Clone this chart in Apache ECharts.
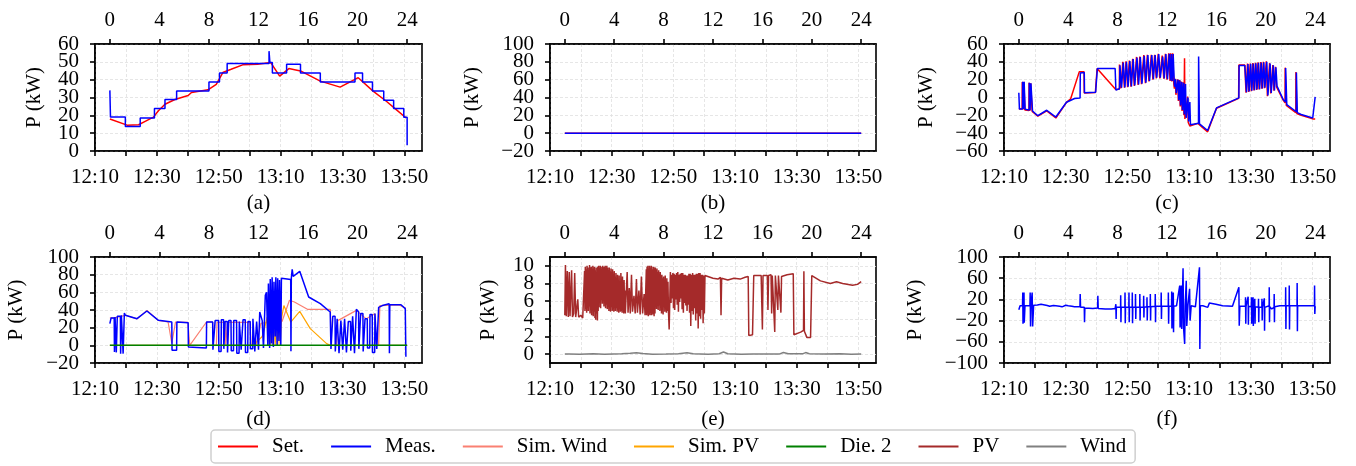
<!DOCTYPE html>
<html>
<head>
<meta charset="UTF-8">
<title>P (kW)</title>
<script src="https://cdn.jsdelivr.net/npm/echarts@6/dist/echarts.min.js"></script>
<style>
  html, body { margin: 0; padding: 0; background: #fff; }
  #main { width: 1356px; height: 466px; }
</style>
</head>
<body>
<div id="main"></div>
<script>
// tick labels
var hourTicks = [0, 4, 8, 12, 16, 20, 24];
var clockMinutes = [10, 20, 30, 40, 50, 60, 70, 80, 90, 100, 110];   // minutes after 12:00
var clockLabelMinutes = [10, 30, 50, 70, 90, 110];
var clockTicks = ['12:10', '12:30', '12:50', '13:10', '13:30', '13:50'];
var legendNames = ['Set.', 'Meas.', 'Sim. Wind', 'Sim. PV', 'Die. 2', 'PV', 'Wind'];

// (a)
var setA = [[0,17.9],[1.39,14.5],[2.32,14.7],[2.85,16.6],[3.52,19],[3.92,22.6],[4.45,26.2],[5.25,28.9],[6.32,31.1],[6.59,32.8],[7.92,34.3],[8.59,37.4],[9.12,44],[9.79,45.8],[10.72,48.3],[11.92,48.7],[12.99,49.6],[13.71,42],[14.45,46.2],[15.39,44.9],[16.99,39.2],[18.59,35.8],[20.05,41.1],[21.25,33.6],[22.32,27.9],[23.12,23.2],[23.92,18.5]];
var measA = [[0,34],[0.05,19],[1.25,13.8],[2.45,18.5],[3.6,23.8],[4.45,28.9],[5.39,33.6],[8.0,38.7],[8.85,43.8],[9.47,49],[12.85,56],[12.92,49.6],[13.12,43.8],[14.27,48.7],[15.39,43.8],[16.99,38.7],[19.79,43.8],[20.4,38.7],[21.2,33.6],[22.11,28.5],[22.91,23.8],[23.73,18.9],[24,3.2]];

// (b)
var setB = [[0,0],[24,0]];
var measB = [[0,0],[24,0]];

// (c)
var setC = [[0,-12.5],[0.27,-13],[0.28,17.5],[0.34,17.5],[0.35,-13.5],[0.4,-13.5],[0.41,17.5],[0.48,17.5],[0.49,-14],[0.82,-14.5],[0.83,16.5],[0.88,16.5],[0.89,-15],[0.95,-15],[0.96,16],[1.07,15.5],[1.08,-15.5],
  [1.54,-21],[2.26,-15],[3.0,-23],[3.86,-5.5],[4.2,-1.5],[4.9,29],[5.28,29],[5.3,5],[6.2,5.5],[6.34,32.5],[7.85,9],[8.15,9.5],
  [8.15,37],[8.27,37],[8.28,10.5],[8.42,40],[8.54,40],[8.55,11],[8.68,40.5],[8.8,40.5],[8.81,11.5],[8.95,41.5],[9.07,41.5],[9.08,12],[9.22,43.5],[9.34,43.5],[9.35,13],
  [9.53,45.5],[9.65,45.5],[9.66,14],[9.8,46],[9.92,46],[9.93,15],[10.12,47.5],[10.24,47.5],[10.25,16],[10.41,48],[10.53,48],[10.54,18],[10.73,48],[10.85,48],[10.86,20],
  [11.0,48],[11.12,48],[11.13,21.5],[11.29,49],[11.41,49],[11.42,21.5],[11.61,47],[11.73,47],[11.74,21],[11.87,49],[11.99,49],[12.0,20],[12.14,49.5],[12.24,49.5],[12.25,18.5],
  [12.3,49.5],[12.38,49.5],[12.39,18],[12.46,49.5],[12.54,49.5],[12.55,15.5],
  [12.6,10],[12.68,21],[12.72,3],[12.87,20.5],[12.92,-4],[13.02,19.5],[13.07,-10],[13.17,18],[13.22,-15],[13.32,17],[13.37,-20],[13.42,44],[13.45,-24],[13.52,-25],[13.67,1],[13.72,-28],[13.85,-32],[14.0,-33],[14.5,-29],[15.29,-38.5],[16.01,-12],[17.8,-1],[17.82,36.5],[18.3,36.5],
  [18.31,37.5],[18.39,37.5],[18.4,5.5],[18.52,38],[18.6,38],[18.61,6.3],[18.74,38.2],[18.82,38.2],[18.83,7],[18.95,38.6],[19.03,38.6],[19.04,7.8],[19.16,39],[19.24,39],[19.25,8.5],
  [19.37,39.4],[19.45,39.4],[19.46,9],[19.59,39.8],[19.67,39.8],[19.68,9.8],[19.8,40],[19.88,40],[19.89,10.5],[20.04,40.5],[20.12,40.5],[20.13,1.5],[20.31,38.5],[20.39,38.5],[20.4,4.5],
  [20.57,36.5],[20.65,36.5],[20.66,7.5],[20.78,34.5],[20.86,34.5],[20.87,12],
  [21.41,-3],[21.56,-6],[21.57,33.5],[21.64,33.5],[21.66,-9],[22.43,-17],[22.44,28.5],[22.49,28.5],[22.51,-18],[22.87,-20],[23.8,-24],[24,-24]];
var measC = [[0,5.3],[0.05,-12.8],[0.3,-12.8],[0.31,17.7],[0.36,17.7],[0.37,-13],[0.42,-13],[0.43,17.7],[0.5,17.7],[0.51,-13.3],[0.84,-14],[0.85,16.6],[0.9,16.6],[0.91,-14.3],[0.97,-14.3],[0.98,16],[1.1,15.5],[1.11,-15.2],
  [1.54,-20.4],[2.26,-14.3],[3.0,-21.9],[3.86,-5.3],[4.52,-1.1],[4.96,-0.5],[4.98,27.5],[5.3,28],[5.32,5.3],[6.22,6],[6.36,32.5],[7.8,32.5],[7.86,8.3],[8.15,9.8],
  [8.19,36.2],[8.31,36.2],[8.32,10.9],[8.46,39.2],[8.58,39.2],[8.59,11.3],[8.72,40],[8.84,40],[8.85,12],[8.99,41],[9.11,41],[9.12,12.5],[9.26,43],[9.38,43],[9.39,13.6],
  [9.57,44.9],[9.69,44.9],[9.7,14.7],[9.84,45.3],[9.96,45.3],[9.97,15.5],[10.16,46.8],[10.28,46.8],[10.29,16.6],[10.45,47.5],[10.57,47.5],[10.58,18.5],[10.77,47.5],[10.89,47.5],[10.9,20.4],
  [11.04,47.5],[11.16,47.5],[11.17,22.3],[11.33,48.7],[11.45,48.7],[11.46,22.3],[11.65,46],[11.77,46],[11.78,21.5],[11.91,48.7],[12.03,48.7],[12.04,20.4],[12.18,49],[12.28,49],[12.29,19],
  [12.34,48.7],[12.42,48.7],[12.43,18.5],[12.5,48.7],[12.58,48.7],[12.59,16.6],
  [12.62,12],[12.7,20.4],[12.75,5],[12.9,20],[12.95,-3],[13.05,19],[13.1,-9],[13.2,17.4],[13.25,-14],[13.35,16.6],[13.4,-19],[13.5,15],[13.55,-23],[13.7,0],[13.75,-27],[13.85,-5],[13.9,-30.6],[14.0,-31.7],
  [14.55,-29],[14.56,46],[14.62,46],[14.63,-29.5],[15.29,-37],[16.01,-11.7],[17.82,-0.4],[17.84,36],[18.3,36],
  [18.35,37],[18.43,37],[18.44,6],[18.56,37.4],[18.64,37.4],[18.65,6.8],[18.78,37.7],[18.86,37.7],[18.87,7.5],[18.99,38.1],[19.07,38.1],[19.08,8.3],[19.2,38.5],[19.28,38.5],[19.29,9],
  [19.41,38.9],[19.49,38.9],[19.5,9.4],[19.63,39.2],[19.71,39.2],[19.72,10.2],[19.84,39.6],[19.92,39.6],[19.93,10.9],[20.08,40],[20.16,40],[20.17,2.3],[20.35,38],[20.43,38],[20.44,5],
  [20.61,36],[20.69,36],[20.7,8],[20.82,34],[20.9,34],[20.91,12.8],
  [21.41,-2.3],[21.6,-5],[21.61,33],[21.68,33],[21.7,-8],[22.47,-16],[22.48,28],[22.53,28],[22.55,-17],[22.87,-19],[23.8,-23],[23.94,-23],[24,0.75]];

// (d)
var simWindD = [[0,31],[0.35,31],[1.25,34],[2.2,30],[3.0,39.6],[3.9,28.3],[4.7,26.4],[5.0,2.5],[5.3,26.4],[6.3,26],[6.45,0],[7.8,26.4],[8.3,26.4],[8.35,0],[8.6,0],[8.65,26],[9.3,26],[9.35,0],[9.5,26],[11.3,26],[11.4,0],[11.8,0],[12.2,25],[12.8,26],[13.9,27],[14.5,51],[14.9,49],[15.95,40.8],[17.8,40.8],[17.9,0],[18.3,0],[18.4,28],[19.9,39.6],[20.7,30],[21.4,35.8],[21.5,0],[21.7,0],[21.8,45],[23.35,45.7],[23.9,42]];
var simPvD = [[0,0],[11.4,0],[11.8,3],[12.3,10],[12.5,20],[12.7,32],[12.75,0],[12.85,30],[12.95,0],[13.05,31],[13.15,0],[13.25,30],[13.35,0],[13.45,32],[13.55,0],[13.65,28],[13.75,0],[13.85,30],[14.05,45],[14.6,26.4],[15.33,38.5],[16.18,18.9],[17.5,1.9],[17.8,0],[24,0]];
var measD = [[0,24.5],[0.1,31],[0.35,31],[0.37,-7.5],[0.42,32],[0.5,32],[0.52,-8],[0.6,33],[0.85,33],[0.87,-9.4],[0.93,34],[1.05,34],[1.07,-9.4],[1.17,36.6],[1.25,34],[2.19,30.2],[2.99,38.9],[3.92,28.3],[5.0,26.4],[5.02,-5.7],[5.39,-5.7],[5.41,26.4],[6.32,25.6],[6.34,-2],[7.79,-3],[7.81,26.4],[8.3,26.5],
  [8.32,-5],[8.48,-5],[8.5,28],[8.78,28],[8.8,-7],[8.98,-7],[9.0,29],[9.18,29],[9.2,-4],[9.28,-4],[9.3,27],[9.48,27],[9.5,-8],[9.58,-8],[9.6,28],[9.78,28],[9.8,-6],[9.98,-6],[10.0,28],[10.23,28],[10.25,-9],[10.43,-9],[10.45,27],[10.58,27],[10.6,-5],[10.73,-5],[10.75,29],[10.93,29],[10.95,-8],[11.13,-8],[11.15,27],[11.33,27],[11.35,-4],[11.53,-4],[11.55,30],[11.68,30],[11.7,-7],[11.83,-7],[11.85,27],[11.98,27],[12.0,-5],[12.08,-5],[12.1,37.7],[12.3,28],[12.38,28],[12.4,-3],[12.5,-3],[12.55,56.6],[12.65,60],
  [12.75,0],[12.8,70],[12.9,-3],[12.95,75],[13.05,2],[13.1,77],[13.2,-2],[13.25,72],[13.35,10],[13.4,77],[13.5,0],[13.55,76],[13.65,5],[13.7,74],[13.8,0],[13.85,76],[13.95,74],[14.6,74.5],[14.62,-6.8],[14.65,76],[14.72,86],[14.8,78],[15.33,83.8],[16.05,54.7],[16.99,47.2],[17.79,37.7],
  [17.85,-4],[17.98,-4],[18.0,33],[18.18,33],[18.2,-7],[18.33,-7],[18.35,30],[18.48,30],[18.5,-9],[18.63,-9],[18.65,28],[18.78,28],[18.8,-5],[18.93,-5],[18.95,30],[19.08,30],[19.1,-8],[19.23,-8],[19.25,27],[19.43,27],[19.45,-6],[19.58,-6],[19.6,33],[19.73,33],[19.75,-9],[19.88,-9],[19.9,40.8],[20.08,38],[20.1,-4],[20.23,-4],[20.25,36],[20.43,36],[20.45,-7],[20.58,-7],[20.6,30],[20.78,30],[20.8,-3],[20.98,-3],[21.0,35],[21.18,35],[21.2,-8],[21.38,-8],[21.4,36],[21.53,36],[21.55,-4],[21.68,-4],[21.7,43],[22.0,45],[22.55,47],[22.57,-9],[22.6,46],[23.0,46],[23.5,46],[23.85,41.5],[23.9,-13]];
var die2D = [[0,0],[24,0]];

// (e)
var pvE = [[0,4.4],[0.05,10.1],[0.12,4.3],[0.2,9.4],[0.28,4.2],[0.36,9.3],[0.42,4.3],[0.55,9.5],[0.62,4.2],[0.72,4.6],[0.8,9.2],[0.88,4.2],[0.95,4.0],[1.05,6.2],[1.12,4.2],[1.3,4.4],[1.45,4.1],[1.55,4.3],
  [1.6,9.4],[1.63,4.9],[1.66,9.9],[1.7,5.1],[1.73,9.6],[1.77,4.7],[1.8,10.0],[1.84,5.3],[1.87,9.8],[1.9,4.9],[1.94,9.5],[1.97,5.4],[2.0,10.1],[2.04,4.6],[2.07,9.8],[2.1,5.2],[2.14,9.9],[2.17,4.4],[2.2,9.6],[2.24,5.0],[2.27,10.0],[2.3,4.3],
  [2.34,9.7],[2.37,4.8],[2.4,9.9],[2.44,4.1],[2.47,9.5],[2.5,3.9],[2.54,9.8],[2.57,4.6],[2.6,9.3],[2.64,3.8],[2.67,9.9],[2.7,4.9],[2.74,10.0],[2.77,5.3],[2.8,9.7],[2.84,5.8],[2.87,10.0],[2.9,5.2],[2.94,9.9],[2.97,6.1],[3.0,9.6],
  [3.04,5.7],[3.07,10.0],[3.1,6.3],[3.14,9.8],[3.17,5.4],[3.2,9.9],[3.24,5.9],[3.27,10.0],[3.3,5.2],[3.34,9.7],[3.37,5.6],[3.4,10.0],[3.44,5.1],[3.47,9.8],[3.5,5.4],[3.54,9.5],[3.57,4.9],[3.6,9.8],[3.64,5.2],[3.67,9.4],[3.7,4.8],
  [3.74,9.7],[3.77,5.3],[3.8,9.3],[3.84,4.9],[3.87,9.6],[3.9,5.1],[3.94,9.0],[3.97,4.8],[4.0,9.4],[4.04,5.3],[4.07,8.8],[4.1,4.9],[4.14,9.2],[4.17,5.2],[4.2,8.5],[4.24,4.8],[4.27,9.0],[4.3,5.0],[4.34,8.3],[4.37,4.7],[4.4,8.9],
  [4.44,5.1],[4.47,8.0],[4.5,4.8],[4.54,9.2],[4.57,4.9],[4.6,7.6],[4.64,4.7],[4.67,8.8],[4.7,5.0],[4.74,7.9],[4.77,4.6],[4.8,8.4],[4.84,4.8],[4.87,7.2],[4.9,4.6],[4.95,4.7],
  [5.05,9.3],[5.12,4.7],[5.22,7.5],[5.3,4.6],[5.4,9.0],[5.48,4.8],[5.6,6.6],[5.7,4.6],[5.8,8.5],[5.88,4.7],[6.0,7.2],[6.1,4.5],[6.2,8.8],[6.3,4.6],[6.42,6.8],[6.5,4.4],
  [6.6,9.6],[6.63,4.4],[6.66,9.9],[6.7,4.6],[6.73,10.0],[6.76,4.3],[6.8,9.7],[6.83,4.5],[6.86,10.0],[6.9,4.4],[6.93,9.8],[6.96,4.7],[7.0,10.0],[7.03,4.4],[7.06,9.9],[7.1,4.6],[7.13,9.6],[7.16,4.5],[7.2,9.9],[7.23,4.3],[7.26,9.7],
  [7.3,4.6],[7.33,9.8],[7.36,5.7],[7.4,9.5],[7.43,5.1],[7.46,9.7],[7.5,5.8],[7.53,9.3],[7.56,5.0],[7.6,9.5],[7.63,5.5],[7.66,9.1],[7.7,4.9],[7.73,9.3],[7.76,5.6],[7.8,8.9],[7.83,4.6],[7.86,9.0],[7.9,5.2],[7.93,8.6],[7.96,4.5],
  [8.0,8.8],[8.03,5.3],[8.06,8.4],[8.1,4.8],[8.13,8.9],[8.16,5.1],[8.2,8.2],[8.23,4.7],[8.26,8.6],[8.3,4.9],[8.35,8.2],[8.4,4.6],[8.45,2.8],
  [8.55,9.3],[8.6,5.8],[8.65,9.0],[8.7,6.3],[8.75,9.2],[8.8,5.2],[8.85,9.1],[8.9,5.0],[8.95,9.0],[9.0,6.2],[9.05,9.2],[9.1,5.6],[9.15,9.3],[9.2,4.8],[9.25,9.0],[9.3,5.9],[9.35,9.1],[9.4,6.3],[9.45,9.2],[9.5,5.1],
  [9.55,9.2],[9.6,4.7],[9.65,9.0],[9.7,5.8],[9.75,9.0],[9.8,5.5],[9.85,8.9],[9.9,4.9],[9.95,8.9],[10.0,5.6],[10.05,9.1],[10.1,4.7],[10.15,9.1],[10.2,3.2],[10.25,9.0],[10.3,4.9],[10.35,9.2],[10.4,4.5],[10.45,9.0],[10.5,5.2],
  [10.55,9.0],[10.6,3.8],[10.65,9.1],[10.7,4.6],[10.75,9.1],[10.8,2.9],[10.85,9.2],[10.9,4.3],[10.95,9.2],[11.0,4.0],[11.05,9.0],[11.1,5.0],[11.15,9.0],[11.2,3.5],[11.25,8.9],[11.3,4.6],[11.35,8.9],[11.45,8.7],
  [12.0,8.6],[12.4,8.5],[12.6,8.7],[12.65,4.4],[12.7,8.6],[13.2,8.4],[13.7,8.6],[14.2,8.5],[14.6,8.7],[14.85,8.8],[14.9,2.1],[15.2,2.2],[15.3,8.9],[15.9,8.9],[16.0,2.8],[16.05,8.9],[16.4,8.9],[16.45,5.0],[16.5,8.9],[16.7,9.0],[16.75,4.6],[16.8,8.9],[16.95,8.8],[17.0,2.5],[17.05,8.9],[17.2,8.9],[17.25,5.0],[17.3,8.9],[17.45,8.9],[17.5,4.7],[17.55,8.8],[18.0,9.0],[18.5,9.1],[18.55,2.2],[19.1,2.5],[19.33,2.7],[19.36,9.4],[19.4,2.6],[19.6,1.9],[19.9,1.9],[20.0,8.9],[20.16,8.7],[20.7,8.3],[21.5,8.0],[22.0,8.2],[22.5,8.0],[23.3,7.8],[23.7,7.9],[24,8.2]];
var windE = [[0,0.02],[0.15,0.2],[0.35,0.03],[1.2,0],[2.3,0.06],[3.2,0],[4.6,0.06],[5.3,0.1],[5.8,0.15],[6.3,0.08],[7.1,0],[8.2,0.02],[9.2,0.06],[9.9,0.15],[10.4,0.05],[11.6,0],[12.5,0.04],[12.85,0.25],[13.2,0.04],[14.3,0],[15.2,0.03],[16.2,0.02],[17.4,0.03],[17.7,0.18],[18.1,0.04],[19.3,0.06],[19.5,0.18],[19.8,0.04],[21,0.01],[22.3,0.04],[23.2,0],[24,0.01]];

// (f)
var measF = [[0,0.6],[0.1,8],[0.3,8],[0.32,33],[0.34,-26],[0.38,8],[0.42,33],[0.44,-24],[0.5,8],[0.6,6],[0.9,8],[0.92,33],[0.95,-31],[0.98,8],[1.08,33],[1.12,-31],[1.2,9],
  [1.5,9.4],[1.8,11],[2.0,10],[2.3,8.5],[2.5,7],[2.8,8.5],[3.0,8],[3.3,7],[3.5,6],[3.8,9],[4.0,8],[4.3,7],[4.5,6.3],[4.95,6],[4.97,30],[5.0,5],[5.3,5],[5.32,-23],[5.35,4],[6.0,3],[6.38,4],[6.4,27],[6.43,3],[7.0,2],[7.5,2],[7.8,3],
  [7.85,5],[7.86,11],[7.88,-17],[7.9,5],[8.24,5],[8.25,28],[8.27,-23],[8.29,5],[8.59,5],[8.6,33],[8.62,-25],[8.64,5],[8.91,5],[8.92,33],[8.94,-23],[8.96,5],[9.18,5],[9.19,33],[9.21,-25],[9.23,5],
  [9.44,5],[9.45,30],[9.47,-17],[9.49,5],[9.79,5],[9.8,30],[9.82,-20],[9.84,5],[10.1,5],[10.11,27],[10.13,-14],[10.15,5],[10.37,6],[10.38,24],[10.4,-20],[10.42,6],[10.64,6],[10.65,30],[10.67,-20],[10.69,6],
  [11.04,7],[11.05,30],[11.07,-23],[11.09,7],[11.52,7],[11.53,33],[11.55,-17],[11.57,7],[12.1,7],[12.11,33],[12.13,-26],[12.15,7],[12.37,7],[12.38,35],[12.4,-35],[12.42,7],[12.5,7],[12.51,33],[12.53,-42],[12.55,7],
  [12.77,8],[13.03,46],[13.06,-33],[13.16,46],[13.19,-36],[13.3,78.6],[13.34,-33],[13.43,-64],[13.47,8],[13.56,55],[13.6,-30],[13.7,10],[13.83,40],[13.87,-20],[13.96,8],[14.3,6],[14.63,80.5],[14.66,-73.6],[14.7,8],[14.9,8],[15.3,5],[15.43,13],[15.96,11],[16.5,8],[17.3,7],
  [17.82,43],[17.85,-29.6],[17.9,7],[18.35,7],[18.36,24],[18.38,-26],[18.4,7],[18.56,7],[18.57,25],[18.59,-28],[18.61,7],[18.83,6],[18.84,24],[18.86,-26],[18.88,6],[18.96,6],[18.97,24],[18.99,-30],[19.01,6],
  [19.1,6],[19.11,21],[19.13,-26],[19.15,6],[19.4,5],[19.41,21],[19.43,-23],[19.45,5],[19.68,5],[19.69,21],[19.71,-20],[19.73,5],[19.87,5],[19.88,22],[19.9,-39],[19.92,5],
  [20.08,8],[20.27,8],[20.28,43],[20.3,-23],[20.32,6],[20.48,2],[20.67,5],[20.68,30],[20.7,-23],[20.72,6],[21.14,8],[21.6,8],[21.61,43],[21.63,-36],[21.65,8],[21.89,8],[21.9,46],[21.92,-37],[21.94,8],
  [22.53,8],[22.54,51],[22.56,-40],[22.58,8],[22.9,8],[23.5,8],[23.94,8],[23.95,46],[23.97,-7.5],[24,7]];

var FONT = 'Liberation Serif';
var FS = 21;
var colors = {
  'Set.': '#ff0000', 'Meas.': '#0000ff', 'Sim. Wind': '#fa8072', 'Sim. PV': '#ffa500',
  'Die. 2': '#008000', 'PV': '#a52a2a', 'Wind': '#808080'
};

var panels = [
  { tag: '(a)', box: [95, 44, 327, 107], capGap: 52, y: { min: 0, max: 60, interval: 10, ends: [0, 60] }, gap: 50,
    lines: [['Set.', setA], ['Meas.', measA, 'end']] },
  { tag: '(b)', box: [550, 44, 326, 107], capGap: 52, y: { min: -20, max: 100, interval: 20, ends: [-20, 100] }, gap: 67,
    lines: [['Set.', setB], ['Meas.', measB]] },
  { tag: '(c)', box: [1004, 44, 326, 107], capGap: 52, y: { min: -60, max: 60, interval: 20, ends: [-60, 60] }, gap: 67,
    lines: [['Set.', setC], ['Meas.', measC]] },
  { tag: '(d)', box: [95, 257, 327, 106], capGap: 56, y: { min: -20, max: 100, interval: 20, ends: [-20, 100] }, gap: 68,
    lines: [['Sim. Wind', simWindD, null, 1.2], ['Sim. PV', simPvD, null, 1.2], ['Meas.', measD], ['Die. 2', die2D]] },
  { tag: '(e)', box: [550, 257, 326, 106], capGap: 56, y: { min: -1, max: 11, custom: [0, 2, 4, 6, 8, 10], ends: [0, 10] }, gap: 51,
    lines: [['PV', pvE], ['Wind', windE]] },
  { tag: '(f)', box: [1004, 257, 326, 106], capGap: 56, y: { min: -100, max: 100, interval: 40, ends: [-100, 100] }, gap: 78,
    lines: [['Meas.', measF]] }
];

var black = { color: '#000', width: 1.6 };
var gridLine = { show: true, lineStyle: { color: '#e0e0e0', width: 0.8, type: [3, 2] } };
var labelFont = { fontFamily: FONT, fontSize: FS, color: '#000' };
function minus(v) { return String(v).replace('-', '\u2212'); }

var grids = [], xAxes = [], yAxes = [], series = [], graphics = [];
panels.forEach(function (p, i) {
  grids.push({ left: p.box[0], top: p.box[1], width: p.box[2], height: p.box[3], show: true,
    borderColor: '#000', borderWidth: 1.6, containLabel: false, outerBoundsMode: 'none' });
  // bottom clock axis
  xAxes.push({ gridIndex: i, type: 'value', position: 'bottom', min: 10, max: 115.7, interval: 10,
    axisLine: { show: true, onZero: false, lineStyle: black },
    axisTick: { show: true, length: 5, lineStyle: black, customValues: clockMinutes },
    axisLabel: Object.assign({ margin: 16, customValues: clockLabelMinutes, showMinLabel: true, showMaxLabel: true,
      formatter: function (v) { return clockTicks[clockLabelMinutes.indexOf(v)] || ''; } }, labelFont),
    splitLine: gridLine });
  // top hour axis (data axis)
  xAxes.push({ gridIndex: i, type: 'value', position: 'top', min: -1.2, max: 25.2,
    axisLine: { show: true, onZero: false, lineStyle: black },
    axisTick: { show: true, length: 5, lineStyle: black, customValues: hourTicks },
    axisLabel: Object.assign({ margin: 13, customValues: hourTicks, showMinLabel: true, showMaxLabel: true }, labelFont),
    splitLine: { show: false } });
  // main y axis: inner labels (end labels come from the companion axis below)
  var y = { gridIndex: i, type: 'value', min: p.y.min, max: p.y.max,
    name: 'P (kW)', nameLocation: 'middle', nameGap: p.gap, nameRotate: 90,
    nameTextStyle: { fontFamily: FONT, fontSize: FS, color: '#000' },
    axisLine: { show: true, onZero: false, lineStyle: black },
    axisTick: { show: true, length: 5, lineStyle: black },
    axisLabel: Object.assign({ margin: 16, formatter: minus, showMinLabel: false, showMaxLabel: false }, labelFont),
    splitLine: gridLine };
  if (p.y.interval) y.interval = p.y.interval;
  if (p.y.custom) { y.splitNumber = 6; y.axisTick.customValues = p.y.custom; y.axisLabel.customValues = p.y.custom; }
  yAxes.push(y);
  // companion y axis carrying only the two end labels
  yAxes.push({ gridIndex: i, type: 'value', position: 'left', min: p.y.min, max: p.y.max,
    axisLine: { show: false, onZero: false },
    axisTick: { show: true, length: 5, lineStyle: black, customValues: p.y.ends },
    axisLabel: Object.assign({ margin: 16, formatter: minus, customValues: p.y.ends, showMinLabel: true, showMaxLabel: true }, labelFont),
    splitLine: { show: false } });
  p.lines.forEach(function (l) {
    series.push({ type: 'line', name: l[0], data: l[1], xAxisIndex: 2 * i + 1, yAxisIndex: 2 * i,
      step: l[2] || false, symbol: 'none', showSymbol: false, silent: true, animation: false,
      lineStyle: { color: colors[l[0]], width: l[3] || 1.5 }, itemStyle: { color: colors[l[0]] } });
  });
  graphics.push({ type: 'text', x: p.box[0] + p.box[2] / 2, y: p.box[1] + p.box[3] + p.capGap,
    style: { text: p.tag, align: 'center', verticalAlign: 'middle', font: FS + 'px "' + FONT + '"', fill: '#000' } });
});

var chart = echarts.init(document.getElementById('main'), null, { renderer: 'canvas' });
chart.setOption({
  animation: false,
  backgroundColor: '#fff',
  grid: grids,
  xAxis: xAxes,
  yAxis: yAxes,
  series: series,
  graphic: graphics,
  legend: {
    data: legendNames.map(function (n) { return { name: n, icon: 'rect', itemStyle: { color: colors[n] } }; }),
    left: 211, top: 430, orient: 'horizontal',
    itemWidth: 40, itemHeight: 2, itemGap: 27, padding: [6, 9, 6, 7],
    borderColor: '#cfcfcf', borderWidth: 1.5, borderRadius: 4,
    textStyle: { fontFamily: FONT, fontSize: FS, color: '#000', padding: [0, 0, 0, 9] },
    selectedMode: false
  }
});
</script>
</body>
</html>
